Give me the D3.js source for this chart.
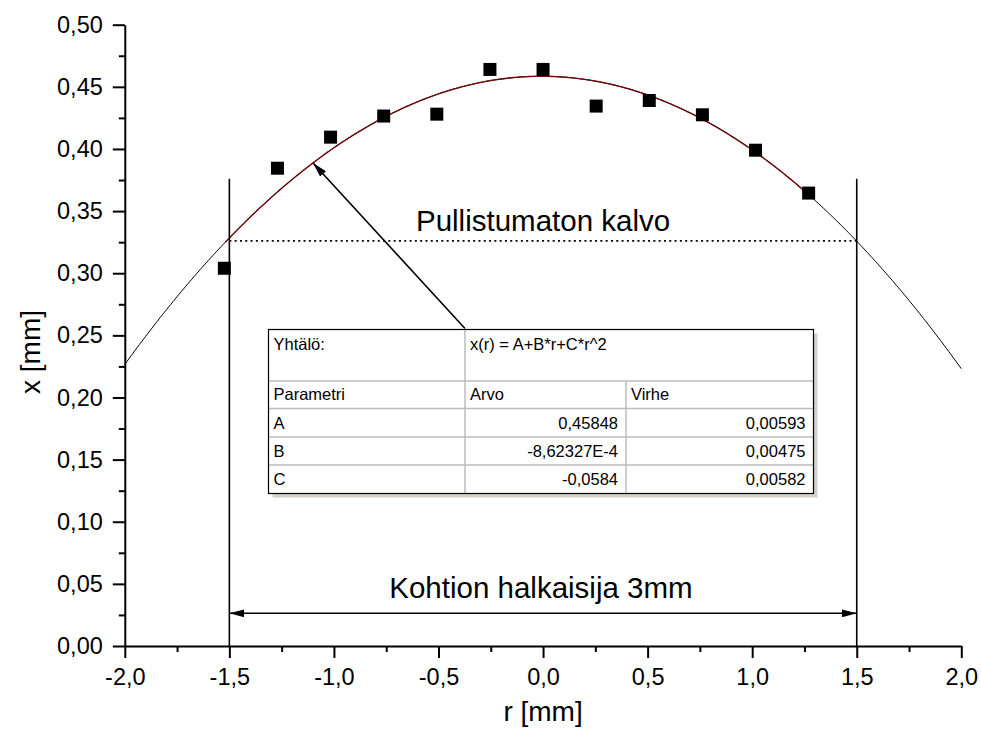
<!DOCTYPE html>
<html>
<head>
<meta charset="utf-8">
<script src="https://cdn.jsdelivr.net/npm/d3@7/dist/d3.min.js"></script>
<style>
  html, body { margin: 0; padding: 0; background: #fff; }
  svg { display: block; }
  text { font-family: "Liberation Sans", Arial, sans-serif; fill: #000; }
</style>
</head>
<body>
<svg id="chart" width="981" height="740"></svg>
<script>
// Measured bulge height x at radial position r (mm); r steps of 0.254 mm
const rValues = [-1.524, -1.27, -1.016, -0.762, -0.508, -0.254, 0, 0.254, 0.508, 0.762, 1.016, 1.27];
const xValues = [0.304, 0.3845, 0.4095, 0.4265, 0.428, 0.464, 0.464, 0.4345, 0.439, 0.4275, 0.399, 0.3645];

// Quadratic fit x(r) = A + B*r + C*r^2
const fitNames  = ["A", "B", "C"];
const fitValues = [0.45848, -8.62327e-4, -0.0584];
const fitErrors = [0.00593, 0.00475, 0.00582];
const fitValueLabels = ["0,45848", "-8,62327E-4", "-0,0584"];
const fitErrorLabels = ["0,00593", "0,00475", "0,00582"];

const xTicks = [-2.0, -1.5, -1.0, -0.5, 0.0, 0.5, 1.0, 1.5, 2.0];
const yTicks = [0.00, 0.05, 0.10, 0.15, 0.20, 0.25, 0.30, 0.35, 0.40, 0.45, 0.50];

// Annotation values
const diameterEdges = [-1.5, 1.5];
const flatLevel = 0.326;      // unbulged membrane level
const edgeLineTop = 0.376;
const diameterArrowY = 0.0263;
const pointerR = -1.1;

const svg = d3.select("#chart");
const plotLeft = 124.8, plotRight = 961.3, plotTop = 24.7, plotBottom = 646;

const x = d3.scaleLinear().domain([-2, 2]).range([plotLeft, plotRight]);
const y = d3.scaleLinear().domain([0, 0.5]).range([plotBottom, plotTop]);

// decimal comma and a plain hyphen for negatives
const comma = f => v => f(v).replace(".", ",").replace("\u2212", "-");
const fit = r => fitValues[0] + fitValues[1] * r + fitValues[2] * r * r;

// arrowhead marker
const defs = svg.append("defs");
defs.append("marker")
  .attr("id", "arrow")
  .attr("viewBox", "0 0 15 8")
  .attr("refX", 15).attr("refY", 4)
  .attr("markerWidth", 15).attr("markerHeight", 8)
  .attr("markerUnits", "userSpaceOnUse")
  .attr("orient", "auto-start-reverse")
  .append("path").attr("d", "M0,0 L15,4 L0,8 Z").attr("fill", "#000");

// fitted curve: thin black over full range, dark red over the measured range
const curveSamples = d3.range(0, 401).map(i => -2 + i * 0.01);
const line = d3.line().x(d => x(d)).y(d => y(fit(d)));
svg.append("path").datum(curveSamples)
  .attr("d", line).attr("fill", "none").attr("stroke", "#000").attr("stroke-width", 1);
const dataRange = curveSamples.filter(r => r >= rValues[0] - 1e-9 && r <= rValues[rValues.length - 1] + 1e-9);
svg.append("path").datum(dataRange)
  .attr("d", line).attr("fill", "none").attr("stroke", "#6e0c0c").attr("stroke-width", 1.4);

// vertical lines at the membrane edges
svg.selectAll(".edge").data(diameterEdges).enter().append("line")
  .attr("x1", d => x(d)).attr("x2", d => x(d))
  .attr("y1", y(edgeLineTop)).attr("y2", y(0))
  .attr("stroke", "#000").attr("stroke-width", 1.6);

// dotted level line
svg.append("line")
  .attr("x1", x(diameterEdges[0])).attr("x2", x(diameterEdges[1]))
  .attr("y1", y(flatLevel)).attr("y2", y(flatLevel))
  .attr("stroke", "#000").attr("stroke-width", 1.8).attr("stroke-dasharray", "2,3.3");

svg.append("text")
  .attr("x", x(0)).attr("y", 231)
  .attr("text-anchor", "middle").attr("font-size", 29.5)
  .text("Pullistumaton kalvo");

// diameter double arrow
svg.append("line")
  .attr("x1", x(diameterEdges[0])).attr("x2", x(diameterEdges[1]))
  .attr("y1", y(diameterArrowY)).attr("y2", y(diameterArrowY))
  .attr("stroke", "#000").attr("stroke-width", 1.6)
  .attr("marker-start", "url(#arrow)").attr("marker-end", "url(#arrow)");

svg.append("text")
  .attr("x", x(-0.01)).attr("y", 598)
  .attr("text-anchor", "middle").attr("font-size", 29.5)
  .text("Kohtion halkaisija 3mm");

// fit result table
const tbl = { x0: 268.5, x1: 465, x2: 626, x3: 813.5, rows: [329.5, 381, 408.5, 437, 465, 493.5] };
const tg = svg.append("g");
tg.append("rect")
  .attr("x", tbl.x0 + 4).attr("y", tbl.rows[0] + 4)
  .attr("width", tbl.x3 - tbl.x0).attr("height", tbl.rows[5] - tbl.rows[0])
  .attr("fill", "#d4d0c8");
tg.append("rect")
  .attr("x", tbl.x0).attr("y", tbl.rows[0])
  .attr("width", tbl.x3 - tbl.x0).attr("height", tbl.rows[5] - tbl.rows[0])
  .attr("fill", "#fff");
const grid = "#bdbdbd";
tbl.rows.slice(1, 5).forEach(ry => {
  tg.append("line").attr("x1", tbl.x0).attr("x2", tbl.x3).attr("y1", ry).attr("y2", ry)
    .attr("stroke", grid).attr("stroke-width", 1.5);
});
tg.append("line").attr("x1", tbl.x1).attr("x2", tbl.x1).attr("y1", tbl.rows[0]).attr("y2", tbl.rows[5])
  .attr("stroke", grid).attr("stroke-width", 1.5);
tg.append("line").attr("x1", tbl.x2).attr("x2", tbl.x2).attr("y1", tbl.rows[1]).attr("y2", tbl.rows[5])
  .attr("stroke", grid).attr("stroke-width", 1.5);
tg.append("rect")
  .attr("x", tbl.x0).attr("y", tbl.rows[0])
  .attr("width", tbl.x3 - tbl.x0).attr("height", tbl.rows[5] - tbl.rows[0])
  .attr("fill", "none").attr("stroke", "#000").attr("stroke-width", 1.2);

const fs = 16.5;
const cellText = (tx, ty, s, anchor) => tg.append("text")
  .attr("x", tx).attr("y", ty).attr("font-size", fs)
  .attr("text-anchor", anchor || "start").text(s);
cellText(tbl.x0 + 5, 349.5, "Yhtälö:");
cellText(tbl.x1 + 5, 349.5, "x(r) = A+B*r+C*r^2");
cellText(tbl.x0 + 5, 400, "Parametri");
cellText(tbl.x1 + 5, 400, "Arvo");
cellText(tbl.x2 + 5, 400, "Virhe");
fitNames.forEach((n, i) => {
  const ty = tbl.rows[2 + i] + 20;
  cellText(tbl.x0 + 5, ty, n);
  cellText(tbl.x2 - 8, ty, fitValueLabels[i], "end");
  cellText(tbl.x3 - 8, ty, fitErrorLabels[i], "end");
});

// pointer from table to the fitted curve
svg.append("line")
  .attr("x1", tbl.x1).attr("y1", tbl.rows[0] - 1)
  .attr("x2", x(pointerR)).attr("y2", y(fit(pointerR)))
  .attr("stroke", "#000").attr("stroke-width", 1.6)
  .attr("marker-end", "url(#arrow)");

// measured points
const sq = 13;
svg.selectAll(".pt").data(rValues).enter().append("rect")
  .attr("x", (d) => x(d) - sq / 2)
  .attr("y", (d, i) => y(xValues[i]) - sq / 2)
  .attr("width", sq).attr("height", sq).attr("fill", "#000");

// axes
const tickFont = 23.5;
const xAxis = svg.append("g").attr("transform", `translate(0,${plotBottom})`)
  .call(d3.axisBottom(x).tickValues(xTicks).tickFormat(comma(d3.format(".1f")))
    .tickSize(12).tickSizeOuter(0).tickPadding(10));
const xMinor = svg.append("g").attr("transform", `translate(0,${plotBottom})`)
  .call(d3.axisBottom(x).tickValues(xTicks.slice(0, -1).map(v => v + 0.25)).tickFormat("")
    .tickSize(6).tickSizeOuter(0));
const yAxis = svg.append("g").attr("transform", `translate(${plotLeft},0)`)
  .call(d3.axisLeft(y).tickValues(yTicks).tickFormat(comma(d3.format(".2f")))
    .tickSize(12).tickSizeOuter(0).tickPadding(10));
const yMinor = svg.append("g").attr("transform", `translate(${plotLeft},0)`)
  .call(d3.axisLeft(y).tickValues(yTicks.slice(0, -1).map(v => v + 0.025)).tickFormat("")
    .tickSize(6).tickSizeOuter(0));

[xAxis, xMinor, yAxis, yMinor].forEach(g => {
  g.selectAll("path, line").attr("stroke", "#000").attr("stroke-width", 2);
  g.selectAll("text").attr("font-size", tickFont).attr("fill", "#000")
    .attr("font-family", "'Liberation Sans', Arial, sans-serif");
});
xMinor.select(".domain").remove();
yMinor.select(".domain").remove();

// axis titles
svg.append("text")
  .attr("x", x(0)).attr("y", 721)
  .attr("text-anchor", "middle").attr("font-size", 28)
  .text("r [mm]");
svg.append("text")
  .attr("transform", `translate(40,352) rotate(-90)`)
  .attr("text-anchor", "middle").attr("font-size", 28)
  .text("x [mm]");
</script>
</body>
</html>
